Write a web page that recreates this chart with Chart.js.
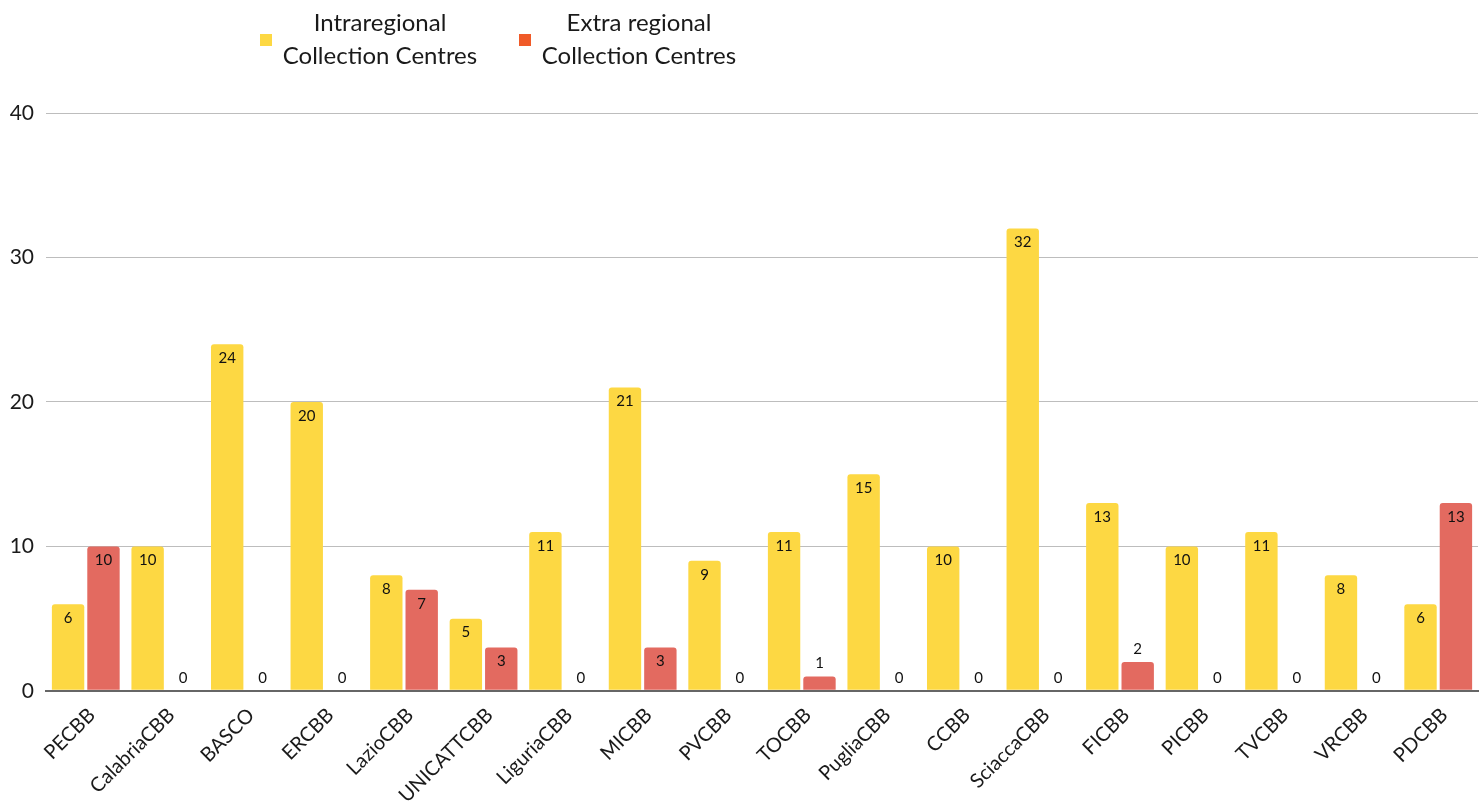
<!DOCTYPE html>
<html>
<head>
<meta charset="utf-8">
<script src="https://cdn.jsdelivr.net/npm/chart.js@4"></script>
<style>
  body { margin: 0; background: #fff; font-family: Lato, "Open Sans", sans-serif; }
  #wrap { position: relative; width: 1479px; height: 812px; }
  .leg { position: absolute; top: 5px; font-size: 24px; line-height: 33px; color: #1a1a1a; text-align: center; }
  .leg i { position: absolute; width: 12px; height: 12px; top: 29px; }
</style>
</head>
<body>
<div id="wrap">
  <div class="leg" style="left:258px;"><i style="left:2px;background:#fdd843"></i><div style="position:absolute;left:20px;width:204px">Intraregional<br>Collection&nbsp;Centres</div></div>
  <div class="leg" style="left:517px;"><i style="left:2px;background:#f05a28"></i><div style="position:absolute;left:20px;width:204px">Extra&nbsp;regional<br>Collection&nbsp;Centres</div></div>
  <canvas id="c" width="1479" height="812"></canvas>
</div>
<script>
const categories = ['PECBB','CalabriaCBB','BASCO','ERCBB','LazioCBB','UNICATTCBB','LiguriaCBB','MICBB','PVCBB','TOCBB','PugliaCBB','CCBB','SciaccaCBB','FICBB','PICBB','TVCBB','VRCBB','PDCBB'];
const intraregional = [6,10,24,20,8,5,11,21,9,11,15,10,32,13,10,11,8,6];
const extraRegional = [10,0,0,0,7,3,0,3,0,1,0,0,0,2,0,0,0,13];

// value labels: inside the top of the bar when it fits, above it otherwise
const valueLabels = {
  id: 'valueLabels',
  afterDatasetsDraw(chart) {
    const ctx = chart.ctx;
    ctx.save();
    ctx.font = '15px Lato';
    ctx.fillStyle = '#111';
    ctx.textAlign = 'center';
    ctx.textBaseline = 'middle';
    chart.data.datasets.forEach((ds, i) => {
      chart.getDatasetMeta(i).data.forEach((bar, j) => {
        const h = bar.base - bar.y;
        const y = h > 30 ? bar.y + 14 : bar.y - 13;
        ctx.fillText(String(ds.data[j]), bar.x, y);
      });
    });
    ctx.restore();
  }
};

new Chart(document.getElementById('c'), {
  type: 'bar',
  data: {
    labels: categories,
    datasets: [
      { label: 'Intraregional Collection Centres', data: intraregional, backgroundColor: '#fdd843',
        borderRadius: {topLeft: 3, topRight: 3}, borderSkipped: 'start' },
      { label: 'Extra regional Collection Centres', data: extraRegional, backgroundColor: '#e36a60',
        borderRadius: {topLeft: 3, topRight: 3}, borderSkipped: 'start' }
    ]
  },
  options: {
    responsive: false,
    animation: false,
    layout: { padding: { top: 113, right: 1, left: 0, bottom: 0 } },
    plugins: { legend: { display: false }, tooltip: { enabled: false } },
    datasets: { bar: { categoryPercentage: 0.89, barPercentage: 0.915 } },
    scales: {
      x: {
        grid: { display: false },
        border: { color: '#666', width: 2 },
        ticks: { minRotation: 45, maxRotation: 45, color: '#1a1a1a', font: { family: 'Lato', size: 20 }, padding: 4.5, labelOffset: 6 }
      },
      y: {
        min: 0, max: 40,
        ticks: { stepSize: 10, color: '#1a1a1a', font: { family: 'Lato', size: 21 }, padding: 12 },
        grid: { color: c => c.tick.value === 0 ? '#666' : '#bdbdbd', lineWidth: c => c.tick.value === 0 ? 2 : 1, drawTicks: false },
        border: { display: false },
        afterFit: a => { a.width = 46; }
      }
    }
  },
  plugins: [valueLabels]
});
</script>
</body>
</html>
